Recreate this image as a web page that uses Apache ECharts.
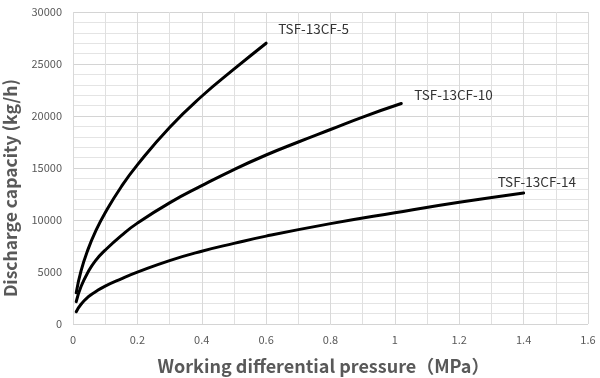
<!DOCTYPE html>
<html><head><meta charset="utf-8">
<script src="https://cdn.jsdelivr.net/npm/echarts@6/dist/echarts.min.js"></script>
<style>html,body{margin:0;padding:0;background:#fff}#c{width:600px;height:378px}</style>
</head><body><div id="c"></div>
<script>
const seriesNames = ['TSF-13CF-5', 'TSF-13CF-10', 'TSF-13CF-14'];
const tsf5 = [[0.01,3000],[0.025,5100],[0.047,7200],[0.07,8900],[0.1,10700],[0.15,13200],[0.2,15300],[0.3,18900],[0.4,21900],[0.5,24500],[0.6,27000]];
const tsf10 = [[0.01,2150],[0.025,3600],[0.047,5000],[0.07,6100],[0.1,7100],[0.15,8500],[0.2,9700],[0.3,11650],[0.4,13300],[0.5,14850],[0.6,16250],[0.7,17500],[0.8,18700],[0.9,19900],[1.02,21200]];
const tsf14 = [[0.01,1180],[0.025,1900],[0.047,2600],[0.07,3100],[0.1,3650],[0.15,4350],[0.2,4980],[0.3,6100],[0.4,7000],[0.5,7750],[0.6,8450],[0.8,9650],[1.0,10700],[1.2,11700],[1.4,12600]];
const xTicks = [0, 0.2, 0.4, 0.6, 0.8, 1, 1.2, 1.4, 1.6];
const yTicks = [0, 5000, 10000, 15000, 20000, 25000, 30000];

const labelOffsets = [[7,-14],[8,-9],[-31,-11]];
const dataSets = [tsf5, tsf10, tsf14];
const font = '"Noto Sans CJK JP", "Noto Sans", sans-serif';

const chart = echarts.init(document.getElementById('c'));
chart.setOption({
  animation: false,
  grid: {left: 73, right: 12, top: 12, bottom: 54, outerBoundsMode: 'none', containLabel: false},
  xAxis: {
    type: 'value', min: 0, max: 1.6, interval: 0.2,
    name: 'Working differential pressure（MPa）', nameLocation: 'middle', nameGap: 33,
    nameTextStyle: {fontFamily: font, fontSize: 18, fontWeight: 'bold', color: '#595959', padding: [0, 14, 0, 0]},
    axisLine: {show: false}, axisTick: {show: false},
    axisLabel: {fontFamily: font, fontSize: 11, color: '#595959', margin: 10,
      formatter: v => { const t = xTicks.find(x => Math.abs(x - v) < 1e-6); return t === undefined ? '' : String(t); }},
    splitLine: {lineStyle: {color: '#d9d9d9', width: 1}},
    minorTick: {show: false, splitNumber: 2},
    minorSplitLine: {show: true, lineStyle: {color: '#e0e0e0', width: 1}}
  },
  yAxis: {
    type: 'value', min: 0, max: 30000, interval: 5000,
    name: 'Discharge capacity (kg/h)', nameLocation: 'middle', nameGap: 54,
    nameTextStyle: {fontFamily: font, fontSize: 17.5, fontWeight: 'bold', color: '#595959', padding: [0, 40, 0, 0]},
    axisLine: {show: false}, axisTick: {show: false},
    axisLabel: {fontFamily: font, fontSize: 11, color: '#595959', margin: 11,
      formatter: v => { const t = yTicks.find(y => Math.abs(y - v) < 1e-6); return t === undefined ? '' : String(t); }},
    splitLine: {lineStyle: {color: '#d4d4d4', width: 1}},
    minorTick: {show: false, splitNumber: 5},
    minorSplitLine: {show: true, lineStyle: {color: '#e4e4e4', width: 1}}
  },
  series: dataSets.map((d, i) => ({
    name: seriesNames[i], type: 'line', data: d, smooth: 0.5, showSymbol: false,
    lineStyle: {color: '#000', width: 3, cap: 'round', join: 'round'}, itemStyle: {color: '#000'},
    endLabel: {show: true, formatter: '{a}', offset: labelOffsets[i], distance: 5,
      fontFamily: font, fontSize: 13.5, color: '#333'}
  }))
});
</script></body></html>
